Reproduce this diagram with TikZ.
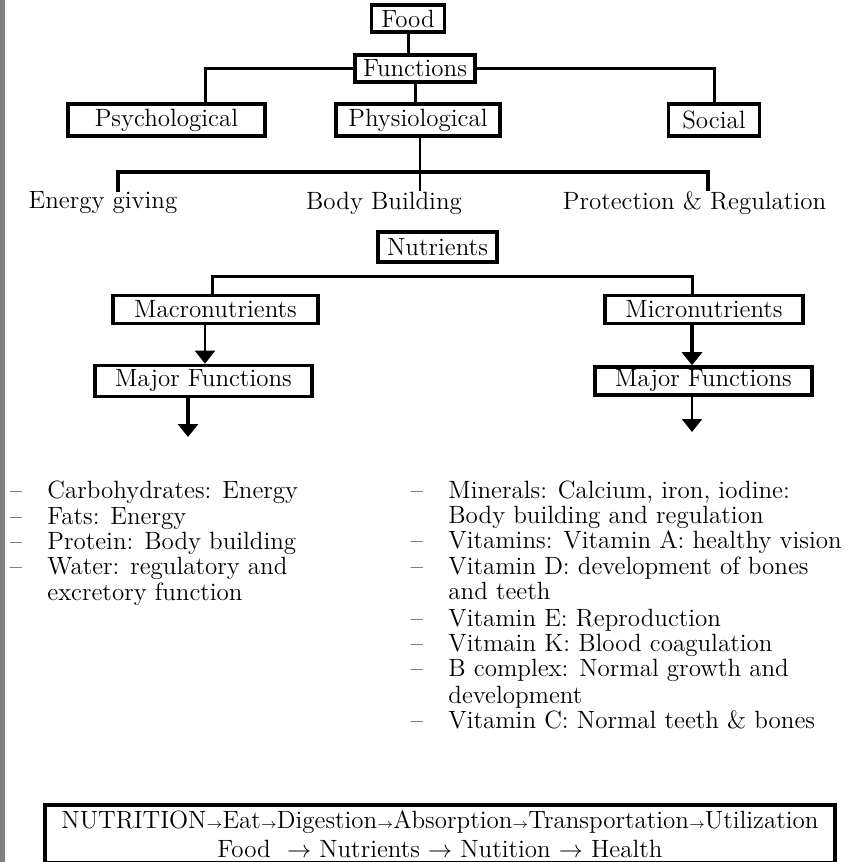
\documentclass[tikz,border=0pt]{standalone}
\usetikzlibrary{arrows.meta}
\newcommand{\nar}{{\scriptsize$\rightarrow$}}
\begin{document}
\begin{tikzpicture}[x=0.5pt,y=-0.5pt,
        every node/.style={font=\fontsize{12.5}{12.75}\selectfont},
        box/.style={draw,line width=1.8pt,inner sep=0pt},
        wire/.style={line width=1.5pt},
        barwire/.style={line width=2pt},
        thinwire/.style={line width=1pt},
        thickwire/.style={line width=2.2pt},
        tip/.style={-{Triangle[width=10pt,length=6.5pt]}},
        item/.style={anchor=base west,inner sep=0pt},
        bullet/.style={anchor=base,inner sep=0pt}]

        \useasboundingbox (0,0) rectangle (863,862);
        \fill[gray] (0,0) rectangle (5,862);

        \node[box,minimum width=36.5pt,minimum height=13.5pt] (food) at (408,18.5) {Food};
        \node[box,minimum width=60pt,minimum height=13.5pt] (funcs) at (415,68.5) {Functions};
        \node[box,minimum width=98.5pt,minimum height=16pt] (psych) at (166.5,120) {Psychological};
        \node[box,minimum width=82pt,minimum height=16pt] (physio) at (418,120) {Physiological};
        \node[box,minimum width=45.5pt,minimum height=16pt] (social) at (714,120) {Social};

        \node[inner sep=0pt] (energy) at (103,203) {Energy giving};
        \node[inner sep=0pt] (bodyb) at (384,203) {Body Building};
        \node[inner sep=0pt] (protect) at (694.5,203) {Protection \& Regulation};

        \node[box,minimum width=59.5pt,minimum height=15pt] (nutr) at (437.5,247) {Nutrients};
        \node[box,minimum width=102.5pt,minimum height=14pt] (macro) at (215.5,309.5) {Macronutrients};
        \node[box,minimum width=99pt,minimum height=14pt] (micro) at (704,309.5) {Micronutrients};
        \node[box,minimum width=108.5pt,minimum height=15.5pt] (majorL) at (203.5,381) {Major Functions};
        \node[box,minimum width=108.5pt,minimum height=14pt] (majorR) at (703.5,381) {Major Functions};

        \coordinate (fork) at (420,172);
        \coordinate (leftend) at (188,437);
        \coordinate (rightend) at (692,432);

        \draw[wire] (food.south) -- (food.south |- funcs.north);
        \draw[wire] (funcs.west) -| ([xshift=19.25pt]psych.north);
        \draw[wire] (funcs.east) -| (social.north);
        \draw[wire] (funcs.south) -- (funcs.south |- physio.north);
        \draw[thinwire] ([xshift=1pt]physio.south) -- ([xshift=1pt]physio.south |- bodyb.north);
        \draw[barwire] ([xshift=7.5pt]energy.north) |- (fork) -| ([xshift=6.75pt]protect.north);

        \draw[wire] ([xshift=-1.75pt]macro.north) |- ([yshift=-6.5pt]nutr.south) -| ([xshift=-6pt]micro.north);
        \draw[thinwire,tip] ([xshift=-5.25pt]macro.south) -- ([xshift=-5.25pt]macro.south |- majorL.north);
        \draw[thickwire,tip] ([xshift=-7.75pt]majorL.south) -- (leftend);
        \draw[thickwire,tip] ([xshift=-6pt]micro.south) -- ([xshift=-6pt]micro.south |- majorR.north);
        \draw[thinwire,tip] ([xshift=-5.75pt]majorR.south) -- (rightend);

        \foreach \y [count=\i] in {498,524,549,574}
            \node[bullet] (ld\i) at (16,\y) {\textendash};
        \foreach \y/\t [count=\i] in {498/{Carbohydrates: Energy},524/{Fats: Energy},549/{Protein: Body building},574/{Water: regulatory and},600/{excretory function}}
            \node[item] (l\i) at (47,\y) {\t};

        \foreach \y [count=\i] in {498,548,574,626,651,676,728}
            \node[bullet] (rd\i) at (417,\y) {\textendash};
        \foreach \y/\t [count=\i] in {498/{Minerals: Calcium, iron, iodine:},523/{Body building and regulation},548/{Vitamins: Vitamin A: healthy vision},574/{Vitamin D: development of bones},599/{and teeth},626/{Vitamin E: Reproduction},651/{Vitmain K: Blood coagulation},676/{B complex: Normal growth and},703/{development},728/{Vitamin C: Normal teeth \& bones}}
            \node[item] (r\i) at (448,\y) {\t};

        \node[box,minimum width=395pt,minimum height=29pt,align=center,font=\fontsize{12.5}{14.5}\selectfont] (summary) at (440,834)
            {NUTRITION\nar Eat\nar Digestion\nar Absorption\nar Transportation\nar Utilization\\
             Food \ $\rightarrow$ Nutrients $\rightarrow$ Nutition $\rightarrow$ Health};

    \end{tikzpicture}
\end{document}
